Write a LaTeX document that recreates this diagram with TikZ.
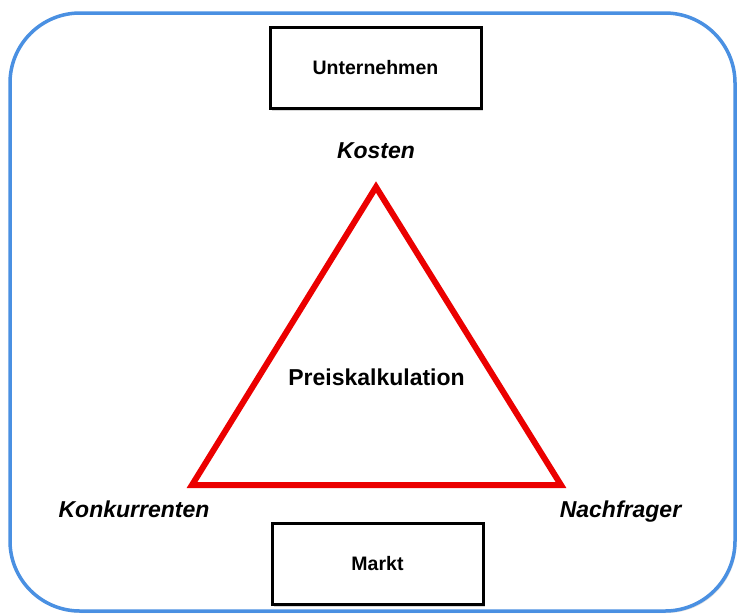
\documentclass[tikz,border=0pt]{standalone}
\usepackage{fontspec}
\setmainfont{Liberation Sans}
\usetikzlibrary{shadows}
\definecolor{frameblue}{RGB}{74,144,226}
\definecolor{trired}{RGB}{235,0,0}
\tikzset{
  frame/.style={draw=frameblue, line width=3.5pt, rounded corners=70pt,
    drop shadow={opacity=0.25, shadow xshift=1.5pt, shadow yshift=-2pt}},
  labelbox/.style={draw=black, line width=3pt, fill=white, minimum width=211pt,
    inner sep=0pt, font=\fontsize{19.5}{22}\selectfont\bfseries,
    drop shadow={opacity=0.3, shadow xshift=1.5pt, shadow yshift=-2.5pt}},
  corner/.style={anchor=base, inner sep=0pt, font=\fontsize{23}{26}\selectfont\bfseries\itshape},
  center/.style={anchor=base, inner sep=0pt, font=\fontsize{23}{26}\selectfont\bfseries},
  tri/.style={draw=trired, line width=6pt, line join=miter}
}
\begin{document}
\begin{tikzpicture}[x=1pt, y=-1pt]
\useasboundingbox (0,0) rectangle (738,614);
\fill[white] (0,0) rectangle (738,614);
\draw[frame, fill=white] (10,13) rectangle (735,611);
\node[labelbox, minimum height=81pt] (unt) at (375.5,67.5) {Unternehmen};
\node[labelbox, minimum height=81pt] (markt) at (377.5,563.5) {Markt};
\coordinate (top) at (376,187);
\coordinate (left) at (192,485);
\coordinate (right) at (561,485);
\draw[tri] (top) -- (left) -- (right) -- cycle;
\node[corner] (kosten) at (376,158) {Kosten};
\node[corner] (konk) at (134,517) {Konkurrenten};
\node[corner] (nach) at (620.5,517) {Nachfrager};
\node[center] (preis) at (376.5,385) {Preiskalkulation};
\end{tikzpicture}
\end{document}
